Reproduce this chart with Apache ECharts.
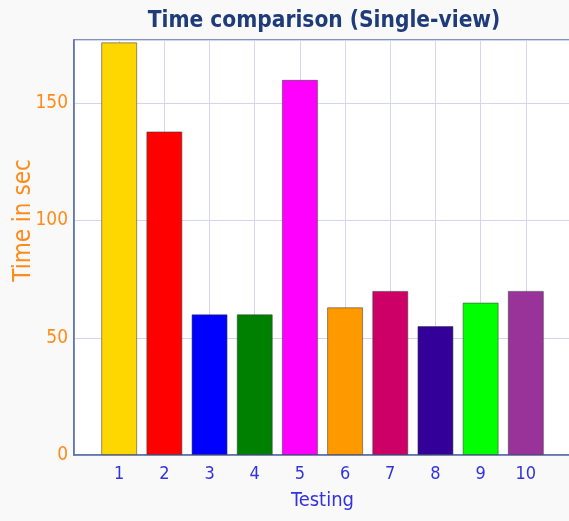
<!DOCTYPE html>
<html>
<head>
<meta charset="utf-8">
<script src="https://cdn.jsdelivr.net/npm/echarts@6/dist/echarts.min.js"></script>
<style>
html,body{margin:0;padding:0;background:#f9f9f9;}
#chart{width:569px;height:521px;}
</style>
</head>
<body>
<div id="chart"></div>
<script>
const categories = [1, 2, 3, 4, 5, 6, 7, 8, 9, 10];
const times = [176, 138, 60, 60, 160, 63, 70, 55, 65, 70];
const barColors = ['#FFD700', '#FF0000', '#0000FF', '#008000', '#FF00FF', '#FF9900', '#CC0066', '#330099', '#00FF00', '#993399'];
const yTicks = [0, 50, 100, 150];

const chart = echarts.init(document.getElementById('chart'), null, {renderer: 'canvas'});
const font = '"DejaVu Sans Condensed", "DejaVu Sans", sans-serif';
chart.setOption({
  backgroundColor: '#f9f9f9',
  animation: false,
  title: {
    text: 'Time comparison (Single-view)',
    left: 319,
    top: 5,
    textAlign: 'center',
    textStyle: {fontFamily: font, fontWeight: 'bold', fontSize: 22.5, color: '#1F3C7A'}
  },
  grid: {
    left: 74, right: -2, top: 40, bottom: 66,
    containLabel: false, outerBoundsMode: 'none',
    show: true, backgroundColor: '#ffffff', borderColor: '#5A6EA8', borderWidth: 1.5
  },
  xAxis: {
    type: 'value', min: 0, max: 11, interval: 1,
    name: 'Testing', nameLocation: 'middle', nameGap: 36, nameMoveOverlap: false,
    nameTextStyle: {fontFamily: font, fontSize: 20, color: '#3333DD'},
    axisLine: {show: true, lineStyle: {color: '#5A6EA8', width: 1.5}},
    axisTick: {show: false},
    axisLabel: {
      fontFamily: font, fontSize: 18, color: '#3333DD', margin: 10,
      formatter: v => categories.indexOf(v) >= 0 ? String(v) : ''
    },
    splitLine: {show: true, lineStyle: {color: '#D4D4F6', width: 1}}
  },
  yAxis: {
    type: 'value', min: 0, max: 177, interval: 50,
    name: 'Time in sec', nameLocation: 'middle', nameGap: 38, nameMoveOverlap: false,
    nameTextStyle: {fontFamily: font, fontSize: 24, color: '#FF8C1A', padding: [0, 0, 0, 54]},
    axisLine: {show: true, lineStyle: {color: '#5A6EA8', width: 1.5}},
    axisTick: {show: false},
    axisLabel: {
      fontFamily: font, fontSize: 19, color: '#FF8C1A', margin: 6,
      formatter: v => yTicks.indexOf(v) >= 0 ? String(v) : ''
    },
    splitLine: {show: true, lineStyle: {color: '#D4D4F6', width: 1}}
  },
  series: [{
    type: 'bar',
    barWidth: 36,
    data: categories.map((c, i) => ({
      value: [c, times[i]],
      itemStyle: {color: barColors[i], borderColor: 'rgba(60,60,60,0.55)', borderWidth: 1}
    }))
  }]
});
</script>
</body>
</html>
